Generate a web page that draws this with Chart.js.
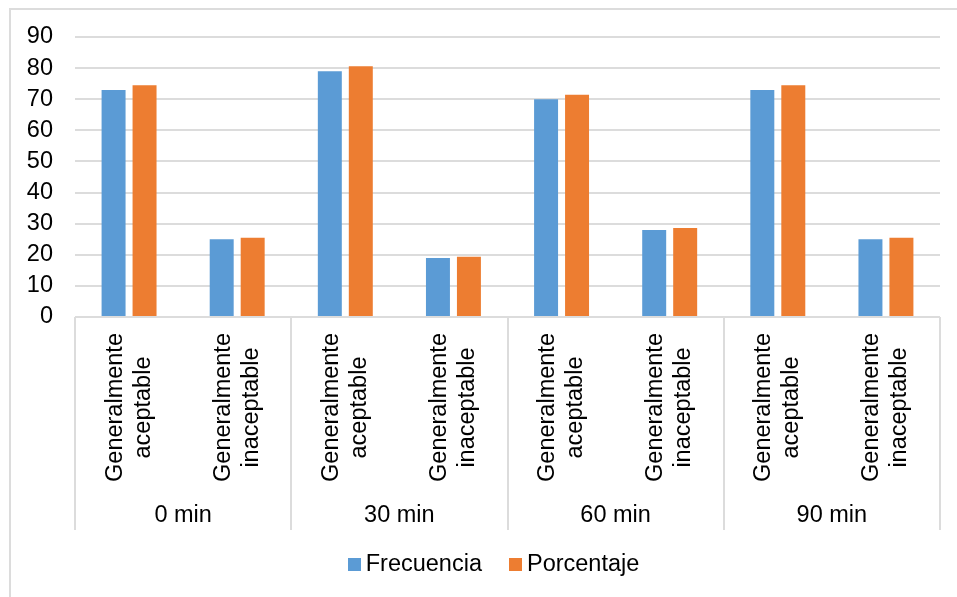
<!DOCTYPE html>
<html>
<head>
<meta charset="utf-8">
<script src="https://cdn.jsdelivr.net/npm/chart.js@4/dist/chart.umd.min.js"></script>
<style>
  html, body { margin: 0; padding: 0; background: #fff; }
  #wrap { position: relative; width: 957px; height: 597px; overflow: hidden; }
  canvas { display: block; }
</style>
</head>
<body>
<div id="wrap"><canvas id="chart" width="957" height="597"></canvas></div>
<script>
// Time points (outer axis level) and rating categories (inner axis level)
const groups = ['0 min', '30 min', '60 min', '90 min'];
const ratings = [['Generalmente', 'aceptable'], ['Generalmente', 'inaceptable']];

// Series values, one per (time point, rating) pair
const frecuencia = [73, 25, 79, 19, 70, 28, 73, 25];
const porcentaje = [74.5, 25.5, 80.6, 19.4, 71.4, 28.6, 74.5, 25.5];

// Value axis ticks
const yTicks = [0, 10, 20, 30, 40, 50, 60, 70, 80, 90];

const seriesNames = ['Frecuencia', 'Porcentaje'];
const seriesColors = ['#5B9BD5', '#ED7D31'];

const FONT_FAMILY = '"Liberation Sans", Arial, sans-serif';
const FONT_SIZE = 23.5;
const FONT = FONT_SIZE + 'px ' + FONT_FAMILY;
const TEXT = '#000000';
const LINE = '#dcdcdc';
const LINE_W = 2;

// Inner-level labels, one per bar cluster
const labels = [];
groups.forEach(() => ratings.forEach(r => labels.push(r)));

// Draws the frame, the two-level category axis and the legend
const multiLevelAxis = {
  id: 'multiLevelAxis',
  afterDraw(chart) {
    const { ctx, chartArea: a, scales: { x } } = chart;
    const per = ratings.length;
    ctx.save();

    // outer frame
    ctx.strokeStyle = LINE;
    ctx.lineWidth = LINE_W;
    ctx.strokeRect(10, 9, 1200, 1200);

    // group boundaries
    const edges = [a.left];
    for (let g = 1; g < groups.length; g++) {
      edges.push((x.getPixelForValue(g * per - 1) + x.getPixelForValue(g * per)) / 2);
    }
    edges.push(a.right);

    ctx.beginPath();
    edges.forEach(e => {
      const px = Math.round(e);
      ctx.moveTo(px, a.bottom);
      ctx.lineTo(px, a.bottom + 213);
    });
    ctx.stroke();

    // inner labels, rotated, lines centred on each other
    ctx.font = FONT;
    ctx.fillStyle = TEXT;
    ctx.textAlign = 'center';
    ctx.textBaseline = 'middle';
    const lh = 28;
    labels.forEach((lines, i) => {
      const cx = x.getPixelForValue(i);
      ctx.save();
      ctx.translate(cx, a.bottom + 90.5);
      ctx.rotate(-Math.PI / 2);
      lines.forEach((t, k) => {
        ctx.fillText(t, 0, (k - (lines.length - 1) / 2) * lh);
      });
      ctx.restore();
    });

    // outer labels
    groups.forEach((g, i) => {
      ctx.fillText(g, (edges[i] + edges[i + 1]) / 2, a.bottom + 199);
    });

    // legend
    const box = 13, gapText = 5, gapItem = 27;
    const items = chart.data.datasets.map(ds => ({
      text: ds.label, color: ds.backgroundColor, w: ctx.measureText(ds.label).width
    }));
    let total = 0;
    items.forEach((it, i) => { total += box + gapText + it.w + (i ? gapItem : 0); });
    let lx = 493.5 - total / 2;
    const ly = 564.5;
    ctx.textAlign = 'left';
    items.forEach((it, i) => {
      if (i) lx += gapItem;
      ctx.fillStyle = it.color;
      ctx.fillRect(Math.round(lx), Math.round(ly - box / 2), box, box);
      lx += box + gapText;
      ctx.fillStyle = TEXT;
      ctx.fillText(it.text, lx, ly);
      lx += it.w;
    });

    ctx.restore();
  }
};

new Chart(document.getElementById('chart'), {
  type: 'bar',
  data: {
    labels: labels,
    datasets: [
      { label: seriesNames[0], data: frecuencia, backgroundColor: seriesColors[0] },
      { label: seriesNames[1], data: porcentaje, backgroundColor: seriesColors[1] }
    ]
  },
  options: {
    responsive: false,
    animation: false,
    devicePixelRatio: 1,
    layout: { padding: { left: 9, right: 17, top: 37, bottom: 0 } },
    datasets: {
      bar: { categoryPercentage: 0.573, barPercentage: 0.774, borderWidth: 0 }
    },
    plugins: {
      legend: { display: false },
      tooltip: { enabled: false }
    },
    scales: {
      x: {
        ticks: { display: false },
        grid: { display: false },
        border: { display: false },
        afterFit(s) { s.height = 280; }
      },
      y: {
        min: yTicks[0],
        max: yTicks[yTicks.length - 1],
        afterBuildTicks(s) { s.ticks = yTicks.map(v => ({ value: v })); },
        ticks: {
          autoSkip: false,
          padding: 22,
          color: TEXT,
          font: { family: FONT_FAMILY, size: FONT_SIZE }
        },
        grid: { color: LINE, lineWidth: LINE_W, drawTicks: false },
        border: { display: false },
        afterFit(s) { s.width = 66; }
      }
    }
  },
  plugins: [multiLevelAxis]
});
</script>
</body>
</html>
